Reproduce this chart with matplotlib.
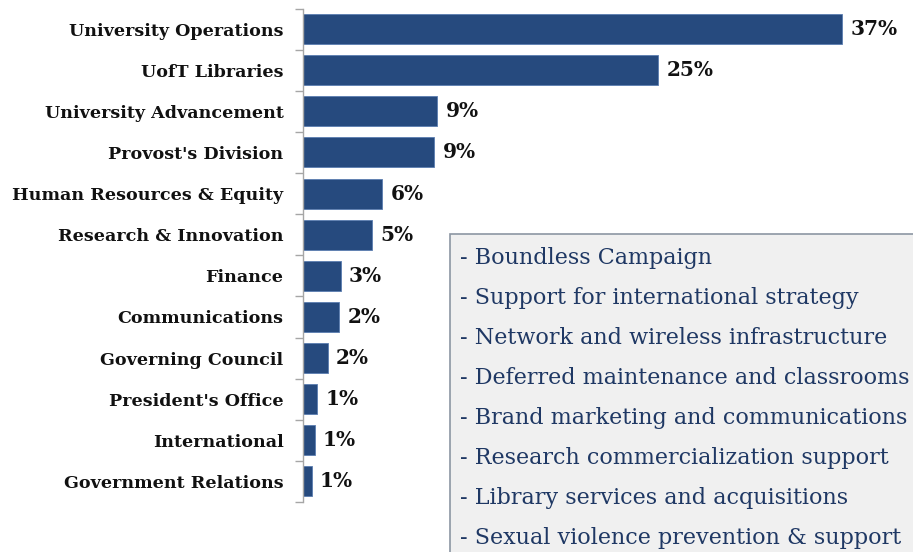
import matplotlib
matplotlib.use("Agg")
import matplotlib.pyplot as plt
from matplotlib.patches import Rectangle

categories = ["University Operations", "UofT Libraries", "University Advancement",
              "Provost's Division", "Human Resources & Equity", "Research & Innovation",
              "Finance", "Communications", "Governing Council", "President's Office",
              "International", "Government Relations"]
values = [37.3, 24.6, 9.3, 9.1, 5.5, 4.8, 2.6, 2.5, 1.7, 1.0, 0.8, 0.6]
value_labels = ["37%", "25%", "9%", "9%", "6%", "5%", "3%", "2%", "2%", "1%", "1%", "1%"]
box_items = ["- Boundless Campaign",
             "- Support for international strategy",
             "- Network and wireless infrastructure",
             "- Deferred maintenance and classrooms",
             "- Brand marketing and communications",
             "- Research commercialization support",
             "- Library services and acquisitions",
             "- Sexual violence prevention & support"]

W, H = 913, 552
fig = plt.figure(figsize=(W / 100, H / 100), dpi=100)
ax_left, ax_right = 303, 900
ax_top, ax_bottom = 8.5, 502
ax = fig.add_axes([ax_left / W, 1 - ax_bottom / H, (ax_right - ax_left) / W, (ax_bottom - ax_top) / H])

bar_color = "#264A7E"
n = len(categories)
ypos = list(range(n))
ax.barh(ypos, values, height=0.73, color=bar_color, edgecolor="#5A7DB0", linewidth=0.6)
ax.set_ylim(n - 0.5, -0.5)
ax.set_xlim(0, (ax_right - ax_left) / 14.45)

label_font = "DejaVu Serif"
ax.set_yticks(ypos)
ax.set_yticklabels(categories, fontsize=12.6, fontweight="bold", family=label_font, color="#111111")
ax.tick_params(axis="y", length=0, pad=14)
ax.set_yticks([i - 0.5 for i in range(n + 1)], minor=True)
ax.tick_params(axis="y", which="minor", length=6, color="#A6A6A6", width=1)
ax.set_xticks([])
for s in ["top", "right", "bottom"]:
    ax.spines[s].set_visible(False)
ax.spines["left"].set_color("#A6A6A6")
ax.spines["left"].set_linewidth(1)

for y, v, lab in zip(ypos, values, value_labels):
    ax.annotate(lab, (v, y), xytext=(6, 0), textcoords="offset points", va="center", ha="left",
                fontsize=14.5, fontweight="bold", family=label_font, color="#111111")

# Text box
bx, by = 450, 234
rect = Rectangle((bx / W, 1 - (H + 5) / H), (W + 5 - bx) / W, (H + 5 - by) / H,
                 transform=fig.transFigure, facecolor="#F0F0F0", edgecolor="#8C96A3",
                 linewidth=1.2, zorder=5)
fig.patches.append(rect)
for i, t in enumerate(box_items):
    yc = 258 + 40 * i
    fig.text(460 / W, 1 - yc / H, t, ha="left", va="center", fontsize=16,
             family="DejaVu Serif", color="#1F3864", zorder=6)

fig.savefig("out.png", dpi=100)
